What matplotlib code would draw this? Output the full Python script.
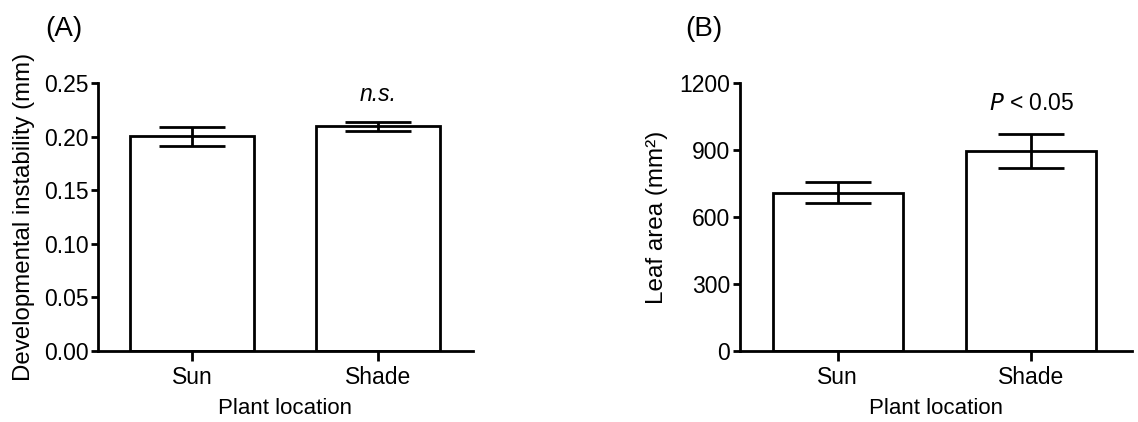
import matplotlib
matplotlib.use("Agg")
import matplotlib.pyplot as plt

plt.rcParams['font.family'] = ['Liberation Sans', 'DejaVu Sans']

locations = ['Sun', 'Shade']
instability = [0.2005, 0.2095]
instability_err = [0.0089, 0.0041]
leaf_area = [709, 896]
leaf_area_err = [48, 76]

fig = plt.figure(figsize=(11.38, 4.22), dpi=100)
ax_a = fig.add_axes([98 / 1138, 1 - 351 / 422, 375 / 1138, 268 / 422])
ax_b = fig.add_axes([740 / 1138, 1 - 351 / 422, 392 / 1138, 268 / 422])


def style(ax, vals, errs, width):
    x = range(len(locations))
    ax.bar(x, vals, width=width, color='white', edgecolor='black', linewidth=2.0, zorder=2)
    ax.errorbar(x, vals, yerr=errs, fmt='none', ecolor='black', elinewidth=2.0,
                capsize=24, capthick=2.0, zorder=3)
    ax.set_xticks(list(x))
    ax.set_xticklabels(locations, fontsize=16.5)
    ax.spines['top'].set_visible(False)
    ax.spines['right'].set_visible(False)
    ax.spines['left'].set_linewidth(2.0)
    ax.spines['bottom'].set_linewidth(2.0)
    ax.tick_params(axis='y', length=5, width=2.0, labelsize=16.5, pad=2)
    ax.tick_params(axis='x', length=7, width=2.0, pad=4)
    ax.set_xlabel('Plant location', fontsize=16, labelpad=6)


style(ax_a, instability, instability_err, 0.67)
ax_a.set_xlim(-0.505, 1.51)
ax_a.set_ylim(0, 0.25)
ax_a.set_yticks([0, 0.05, 0.10, 0.15, 0.20, 0.25])
ax_a.set_yticklabels(['0.00', '0.05', '0.10', '0.15', '0.20', '0.25'])
ax_a.set_ylabel('Developmental instability (mm)', fontsize=17.3, labelpad=6)
ax_a.text(1, 0.2395, 'n.s.', style='italic', ha='center', va='center', fontsize=16.5)
fig.text(45 / 1138, 1 - 29 / 422, '(A)', fontsize=20, ha='left', va='center')

style(ax_b, leaf_area, leaf_area_err, 0.67)
ax_b.set_xlim(-0.505, 1.52)
ax_b.set_ylim(0, 1200)
ax_b.set_yticks([0, 300, 600, 900, 1200])
ax_b.set_ylabel('Leaf area (mm²)', fontsize=17.5, labelpad=8)
ax_b.text(1, 1108, r'$\it{P}$ < 0.05', ha='center', va='center', fontsize=16.5)
fig.text(685 / 1138, 1 - 29 / 422, '(B)', fontsize=20, ha='left', va='center')

fig.savefig('out.png', dpi=100, facecolor='white')
